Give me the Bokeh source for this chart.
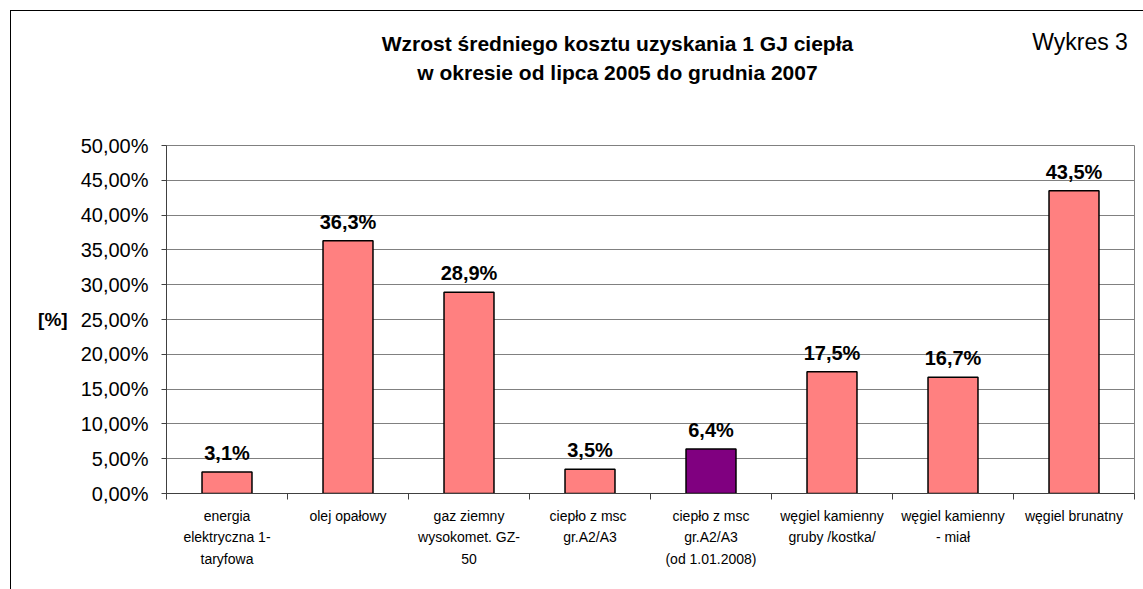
from bokeh.plotting import figure
from bokeh.models import ColumnDataSource, FixedTicker, LabelSet, LinearAxis, Range1d
from bokeh.core.properties import value
from bokeh.embed import file_html
from bokeh.resources import INLINE

categories = [
    "energia\nelektryczna 1-\ntaryfowa",
    "olej opałowy",
    "gaz ziemny\nwysokomet. GZ-\n50",
    "ciepło  z msc\ngr.A2/A3",
    "ciepło z msc\ngr.A2/A3\n(od 1.01.2008)",
    "węgiel kamienny\ngruby /kostka/",
    "węgiel kamienny\n- miał",
    "węgiel brunatny",
]
values = [3.1, 36.3, 28.9, 3.5, 6.4, 17.5, 16.7, 43.5]
value_labels = ["3,1%", "36,3%", "28,9%", "3,5%", "6,4%", "17,5%", "16,7%", "43,5%"]
bar_colors = ["#FF8080", "#FF8080", "#FF8080", "#FF8080", "#800080", "#FF8080", "#FF8080", "#FF8080"]
y_ticks = [0, 5, 10, 15, 20, 25, 30, 35, 40, 45, 50]
y_tick_labels = ["0,00%", "5,00%", "10,00%", "15,00%", "20,00%", "25,00%",
                 "30,00%", "35,00%", "40,00%", "45,00%", "50,00%"]
title_lines = ["Wzrost średniego kosztu uzyskania 1 GJ ciepła",
               "w okresie od lipca 2005 do grudnia 2007"]
corner_text = "Wykres 3"

FONT = "Liberation Sans"
xs = list(range(len(categories)))

src = ColumnDataSource(dict(x=xs, top=values, lab=value_labels, color=bar_colors))

p = figure(width=1132, height=578, output_backend="svg", toolbar_location=None,
           x_range=Range1d(-0.5, len(categories) - 0.5), y_range=Range1d(0, 50),
           min_border_left=155, min_border_right=9, min_border_top=134, min_border_bottom=96,
           frame_width=968, frame_height=348)
p.styles = {"border-left": "1px solid black", "border-top": "1px solid black",
            "margin-left": "10px", "margin-top": "10px"}
p.background_fill_color = "white"
p.border_fill_color = "white"
p.outline_line_color = "#808080"
p.outline_line_width = 1

p.vbar(x="x", top="top", bottom=0, width=0.413, source=src,
       fill_color="color", line_color="black", line_width=1.5)

p.add_layout(LabelSet(x="x", y="top", text="lab", source=src, y_offset=8,
                      text_align="center", text_baseline="bottom",
                      text_font=value(FONT), text_font_style="bold",
                      text_font_size="20px", text_color="black"))

# y axis
p.yaxis.ticker = FixedTicker(ticks=y_ticks)
p.yaxis.major_label_overrides = {t: l for t, l in zip(y_ticks, y_tick_labels)}
p.yaxis.major_label_text_font = FONT
p.yaxis.major_label_text_font_size = "20px"
p.yaxis.major_label_text_color = "black"
p.yaxis.major_tick_in = 0
p.yaxis.major_tick_out = 5
p.yaxis.minor_tick_line_color = None
p.yaxis.axis_line_color = "#404040"
p.yaxis.major_tick_line_color = "#404040"
p.yaxis.major_label_standoff = 13
p.yaxis.axis_label = "[%]"
p.yaxis.axis_label_orientation = "horizontal"
p.yaxis.axis_label_text_font = FONT
p.yaxis.axis_label_text_font_style = "bold"
p.yaxis.axis_label_text_font_size = "19px"
p.yaxis.axis_label_text_color = "black"
p.yaxis.axis_label_standoff = 10

# x axis: labels at centers, ticks at category boundaries
p.xaxis.ticker = FixedTicker(ticks=xs, minor_ticks=[i - 0.5 for i in range(len(categories) + 1)])
p.xaxis.major_label_overrides = {i: c for i, c in zip(xs, categories)}
p.xaxis.major_label_text_font = FONT
p.xaxis.major_label_text_font_size = "14px"
p.xaxis.major_label_text_color = "black"
p.xaxis.major_label_text_line_height = 1.35
p.xaxis.major_tick_line_color = None
p.xaxis.major_tick_out = 0
p.xaxis.minor_tick_in = 0
p.xaxis.minor_tick_out = 6
p.xaxis.minor_tick_line_color = "#404040"
p.xaxis.axis_line_color = "#404040"
p.xaxis.major_label_standoff = 8

p.xgrid.grid_line_color = None
p.ygrid.ticker = FixedTicker(ticks=y_ticks)
p.ygrid.grid_line_color = "#808080"
p.ygrid.grid_line_width = 1


def text_axis(pos, text, size, style, standoff):
    ax = LinearAxis(ticker=FixedTicker(ticks=[pos], minor_ticks=[]),
                    major_label_overrides={pos: text},
                    axis_line_color=None, major_tick_line_color=None,
                    minor_tick_line_color=None, major_tick_in=0, major_tick_out=0,
                    minor_tick_in=0, minor_tick_out=0,
                    major_label_standoff=standoff,
                    major_label_text_font=FONT, major_label_text_font_size=size,
                    major_label_text_font_style=style, major_label_text_color="black")
    p.add_layout(ax, "above")
    return ax


title_x = 3.227
corner_x = 7.05
text_axis(title_x, title_lines[1], "21px", "bold", 62)   # inner row: second title line
text_axis(title_x, title_lines[0], "21px", "bold", 3)    # next row: first title line
text_axis(corner_x, corner_text, "23px", "normal", -26)  # dropped back onto the first line's row

open("out.html", "w").write(file_html(p, INLINE))
